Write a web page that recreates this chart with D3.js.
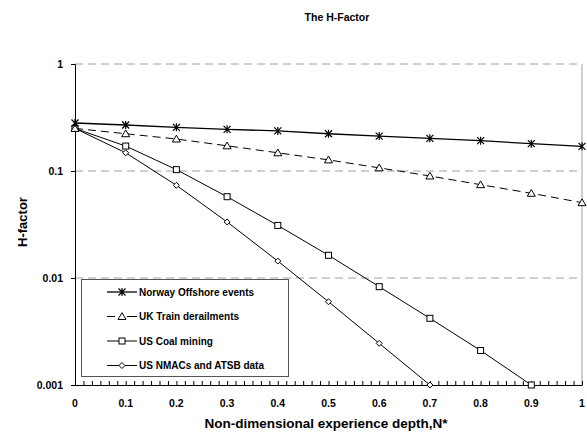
<!DOCTYPE html>
<html>
<head>
<meta charset="utf-8">
<script src="https://cdn.jsdelivr.net/npm/d3@7"></script>
<style>
  body { margin: 0; background: #fff; }
  svg { display: block; font-family: "Liberation Sans", Arial, sans-serif; }
</style>
</head>
<body>
<script>
const xValues = [0, 0.1, 0.2, 0.3, 0.4, 0.5, 0.6, 0.7, 0.8, 0.9, 1];
const norway = [0.281, 0.269, 0.256, 0.245, 0.237, 0.223, 0.212, 0.202, 0.192, 0.18, 0.17];
const ukTrain = [0.25, 0.223, 0.199, 0.172, 0.148, 0.127, 0.107, 0.0898, 0.0745, 0.0619, 0.0506];
const usCoal = [0.25, 0.171, 0.103, 0.0575, 0.031, 0.0163, 0.0083, 0.0042, 0.0021, 0.001];
const usNmac = [0.25, 0.148, 0.0735, 0.0334, 0.0144, 0.006, 0.00245, 0.001];
const seriesNames = ["Norway Offshore events", "UK Train derailments", "US Coal mining", "US NMACs and ATSB data"];
const xTicks = [0, 0.1, 0.2, 0.3, 0.4, 0.5, 0.6, 0.7, 0.8, 0.9, 1];
const yTicks = [0.001, 0.01, 0.1, 1];

const w = 587, h = 432;
const pLeft = 75, pRight = 582, pTop = 64, pBottom = 385;

const x = d3.scaleLinear().domain([0, 1]).range([pLeft, pRight]);
const y = d3.scaleLog().domain([0.001, 1]).range([pBottom, pTop]);

const svg = d3.select("body").append("svg").attr("width", w).attr("height", h);

// title
svg.append("text").attr("x", 337).attr("y", 21).attr("text-anchor", "middle")
  .attr("font-size", 10.5).attr("font-weight", "bold").text("The H-Factor");

// gridlines
svg.append("g").selectAll("line").data(yTicks.filter(d => d > 0.001)).enter().append("line")
  .attr("x1", pLeft).attr("x2", pRight)
  .attr("y1", d => y(d)).attr("y2", d => y(d))
  .attr("stroke", "#a0a0a0").attr("stroke-dasharray", "8,5");

// right border
svg.append("line").attr("x1", pRight).attr("x2", pRight).attr("y1", pTop).attr("y2", pBottom)
  .attr("stroke", "#a0a0a0");

// x axis with minor ticks
const minor = d3.range(0, 61).map(i => i / 60);
const xAxis = d3.axisBottom(x).tickValues(minor).tickSize(0).tickFormat("");
const gx = svg.append("g").attr("transform", `translate(0,${pBottom})`).call(xAxis);
gx.select(".domain").attr("stroke", "#000");
gx.selectAll(".tick line").attr("y1", 0).attr("y2", -4).attr("stroke", "#000");

svg.append("g").selectAll("text").data(xTicks).enter().append("text")
  .attr("x", d => x(d)).attr("y", pBottom + 22).attr("text-anchor", "middle")
  .attr("font-size", 10.5).attr("font-weight", "bold")
  .text(d => d3.format("")(d));

// y axis
const yAxis = d3.axisLeft(y).tickValues(yTicks).tickSize(4).tickPadding(8)
  .tickFormat(d => d3.format("")(d));
const gy = svg.append("g").attr("transform", `translate(${pLeft},0)`).call(yAxis);
gy.select(".domain").attr("stroke", "#000");
gy.selectAll(".tick line").attr("stroke", "#000");
gy.selectAll(".tick text").attr("font-size", 10.5).attr("font-weight", "bold")
  .attr("font-family", "Liberation Sans, Arial, sans-serif").attr("fill", "#000");

// axis titles
svg.append("text").attr("x", 326).attr("y", 428).attr("text-anchor", "middle")
  .attr("font-size", 13.5).attr("font-weight", "bold").text("Non-dimensional experience depth,N*");
svg.append("text").attr("transform", `translate(27,222) rotate(-90)`)
  .attr("text-anchor", "middle").attr("font-size", 13).attr("font-weight", "bold").text("H-factor");

// markers
function marker(g, type) {
  if (type === "star") {
    const p = d3.path();
    p.moveTo(-3.5, -3.5); p.lineTo(3.5, 3.5);
    p.moveTo(-3.5, 3.5); p.lineTo(3.5, -3.5);
    p.moveTo(0, -4); p.lineTo(0, 4);
    g.append("path").attr("d", p.toString()).attr("stroke", "#000").attr("stroke-width", 1.2).attr("fill", "none");
  } else if (type === "tri") {
    g.append("path").attr("d", "M0,-3.8L4,3L-4,3Z").attr("fill", "#fff").attr("stroke", "#000");
  } else if (type === "sq") {
    g.append("rect").attr("x", -3).attr("y", -3).attr("width", 6).attr("height", 6)
      .attr("fill", "#fff").attr("stroke", "#000");
  } else {
    g.append("path").attr("d", "M0,-3L3,0L0,3L-3,0Z").attr("fill", "#fff").attr("stroke", "#000");
  }
}

const series = [
  { name: seriesNames[0], values: norway, type: "star", dash: null, width: 1.3 },
  { name: seriesNames[1], values: ukTrain, type: "tri", dash: "8,5", width: 1 },
  { name: seriesNames[2], values: usCoal, type: "sq", dash: null, width: 1 },
  { name: seriesNames[3], values: usNmac, type: "dia", dash: null, width: 1 }
];

const line = d3.line().x(d => x(d[0])).y(d => y(d[1]));

series.slice().reverse().forEach(s => {
  const pts = s.values.map((v, i) => [xValues[i], v]);
  svg.append("path").attr("d", line(pts)).attr("fill", "none").attr("stroke", "#000")
    .attr("stroke-width", s.width).attr("stroke-dasharray", s.dash);
  pts.forEach(p => {
    marker(svg.append("g").attr("transform", `translate(${x(p[0])},${y(p[1])})`), s.type);
  });
});

// legend
const lg = svg.append("g");
lg.append("rect").attr("x", 81.5).attr("y", 279.5).attr("width", 207).attr("height", 97)
  .attr("fill", "#fff").attr("stroke", "#555");
series.forEach((s, i) => {
  const ry = 292 + i * 24.5;
  lg.append("line").attr("x1", 107).attr("x2", 137).attr("y1", ry).attr("y2", ry)
    .attr("stroke", "#000").attr("stroke-width", s.width)
    .attr("stroke-dasharray", s.dash ? "8,12,10" : null);
  marker(lg.append("g").attr("transform", `translate(122,${ry})`), s.type);
  lg.append("text").attr("x", 139).attr("y", ry + 3.5).attr("font-size", 10)
    .attr("font-weight", "bold").text(s.name);
});
</script>
</body>
</html>
